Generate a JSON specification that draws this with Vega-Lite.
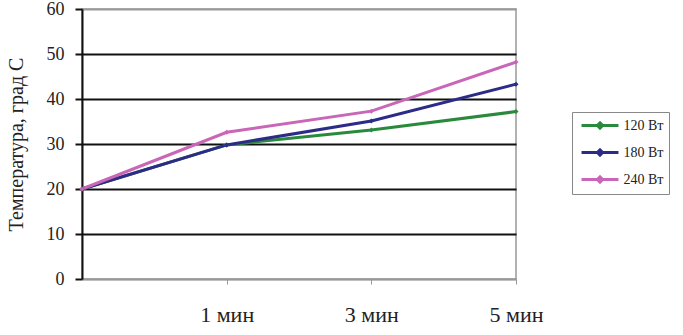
{
  "$schema": "https://vega.github.io/schema/vega-lite/v6.json",
  "autosize": {"type": "none"},
  "padding": {"left": 82, "top": 9, "right": 167, "bottom": 56},
  "width": 434,
  "height": 270,
  "background": "white",
  "config": {
    "view": {"stroke": "#999999", "strokeWidth": 1.5},
    "font": "Liberation Serif"
  },
  "data": {
    "values": [
      {"t": "0", "s": "120 Вт", "v": 20},
      {"t": "1 мин", "s": "120 Вт", "v": 29.8},
      {"t": "3 мин", "s": "120 Вт", "v": 33.1},
      {"t": "5 мин", "s": "120 Вт", "v": 37.2},
      {"t": "0", "s": "180 Вт", "v": 20},
      {"t": "1 мин", "s": "180 Вт", "v": 29.8},
      {"t": "3 мин", "s": "180 Вт", "v": 35.1},
      {"t": "5 мин", "s": "180 Вт", "v": 43.3},
      {"t": "0", "s": "240 Вт", "v": 20},
      {"t": "1 мин", "s": "240 Вт", "v": 32.6},
      {"t": "3 мин", "s": "240 Вт", "v": 37.3},
      {"t": "5 мин", "s": "240 Вт", "v": 48.2}
    ]
  },
  "layer": [
    {
      "mark": {"type": "line", "strokeWidth": 3},
      "encoding": {
        "x": {
          "field": "t", "type": "ordinal",
          "sort": ["0", "1 мин", "3 мин", "5 мин"],
          "scale": {"type": "point", "padding": 0},
          "axis": {
            "values": ["1 мин", "3 мин", "5 мин"],
            "labelAngle": 0,
            "labelFont": "Liberation Serif",
            "labelFontSize": 22,
            "labelColor": "#222222",
            "labelPadding": 20,
            "domainColor": "#999999",
            "domainWidth": 1.5,
            "tickColor": "#999999",
            "tickSize": 5,
            "grid": false,
            "title": null
          }
        },
        "y": {
          "field": "v", "type": "quantitative",
          "scale": {"domain": [0, 60], "nice": false, "zero": true},
          "axis": {
            "values": [0, 10, 20, 30, 40, 50, 60],
            "labelFont": "Liberation Serif",
            "labelFontSize": 18,
            "labelColor": "#222222",
            "labelPadding": 11,
            "domainColor": "#111111",
            "domainWidth": 2,
            "tickColor": "#111111",
            "tickWidth": 2,
            "tickSize": 7,
            "grid": true,
            "gridColor": {"condition": {"test": "datum.value == 60 || datum.value == 0", "value": "#999999"}, "value": "#111111"},
            "gridWidth": 2,
            "title": "Температура, град  С",
            "titleFont": "Liberation Serif",
            "titleFontSize": 20,
            "titleFontWeight": "normal",
            "titleColor": "#222222",
            "titleX": -66,
            "titleBaseline": "middle"
          }
        },
        "color": {
          "field": "s", "type": "nominal",
          "scale": {"domain": ["120 Вт", "180 Вт", "240 Вт"], "range": ["#2a8a3c", "#2c2c88", "#c966b8"]},
          "legend": {
            "title": null,
            "orient": "none",
            "legendX": 490,
            "legendY": 103,
            "strokeColor": "#888888",
            "padding": 5,
            "rowPadding": 8,
            "symbolType": "M-2.64,0L2.64,0M-0.37,0L0,-0.37L0.37,0L0,0.37Z",
            "symbolSize": 196,
            "symbolOffset": 14.5,
            "symbolStrokeWidth": 3,
            "labelFont": "Liberation Serif",
            "labelFontSize": 14,
            "labelColor": "#222222",
            "labelOffset": 15,
            "encode": {"symbols": {"update": {"fill": {"scale": "color", "field": "value"}}}}
          }
        }
      }
    },
    {
      "mark": {"type": "point", "shape": "diamond", "filled": true, "size": 25, "opacity": 1},
      "encoding": {
        "x": {"field": "t", "type": "ordinal", "sort": ["0", "1 мин", "3 мин", "5 мин"]},
        "y": {"field": "v", "type": "quantitative"},
        "color": {"field": "s", "type": "nominal", "legend": null}
      }
    }
  ]
}
